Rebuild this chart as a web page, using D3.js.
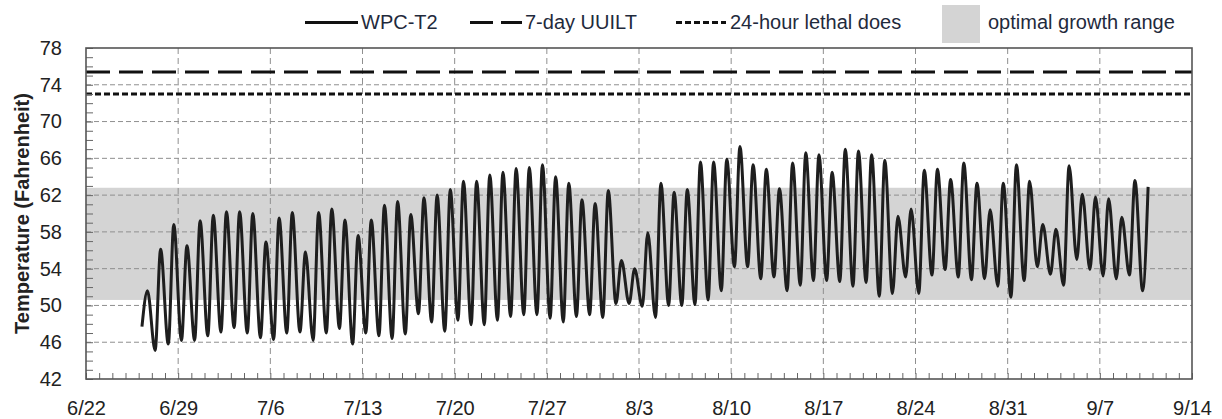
<!DOCTYPE html>
<html>
<head>
<meta charset="utf-8">
<script src="https://cdn.jsdelivr.net/npm/d3@7"></script>
<style>
  body { margin: 0; background: #fff; }
  text { font-family: "Liberation Sans", Arial, sans-serif; }
</style>
</head>
<body>
<div id="chart"></div>
<script>
// daily lows (early morning) and highs (afternoon)
// first value of each array is 6/26, the last one 9/10
const firstDay = new Date(2014, 5, 26);

const lowTemps = [
  47.7, 45.1, 45.8, 46.2, 46.2, 46.7, 47.1, 47.6, 47.0, 46.5,
  46.3, 47.0, 47.1, 46.2, 47.0, 47.5, 45.8, 47.0, 46.7, 46.4,
  46.9, 49.1, 48.2, 47.2, 48.4, 47.9, 47.9, 48.4, 48.8, 49.0,
  49.0, 48.6, 48.2, 48.8, 49.0, 48.7, 50.2, 50.2, 49.9, 48.7,
  50.0, 50.0, 50.1, 50.6, 51.6, 54.2, 54.2, 52.9, 53.1, 51.6,
  52.2, 52.7, 52.7, 52.6, 52.1, 52.5, 51.0, 51.3, 53.1, 51.3,
  53.3, 53.9, 53.1, 52.8, 52.9, 52.1, 50.9, 52.7, 54.2, 53.4,
  52.2, 55.0, 53.9, 53.2, 52.9, 53.3, 51.6
];

const highTemps = [
  51.6, 56.1, 58.8, 56.5, 59.2, 59.8, 60.2, 60.2, 60.0, 56.9,
  59.5, 60.1, 55.8, 60.1, 60.5, 59.3, 57.6, 59.3, 60.9, 61.3,
  59.9, 61.7, 62.0, 62.6, 63.5, 63.5, 64.2, 64.5, 64.9, 65.0,
  65.3, 64.0, 63.3, 61.5, 61.1, 62.5, 54.9, 54.0, 57.9, 63.3,
  62.3, 62.6, 65.6, 65.6, 65.9, 67.3, 65.3, 64.8, 62.7, 65.5,
  66.6, 66.4, 64.5, 67.0, 66.8, 66.4, 65.8, 59.7, 60.5, 64.7,
  64.8, 63.7, 65.5, 63.3, 60.4, 63.3, 65.3, 63.5, 58.8, 58.3,
  65.2, 62.1, 61.8, 61.6, 59.6, 63.6, 62.9
];

const uuilt = 75.4;          // 7-day UUILT
const lethal = 73;           // 24-hour lethal dose
const growthRange = [50.6, 62.8];

const xStart = new Date(2014, 5, 22);
const xEnd = new Date(2014, 8, 14);
const yTicks = [42, 46, 50, 54, 58, 62, 66, 70, 74, 78];

const legendItems = [
  { label: "WPC-T2", kind: "solid" },
  { label: "7-day UUILT", kind: "long" },
  { label: "24-hour lethal does", kind: "short" },
  { label: "optimal growth range", kind: "box" }
];

// build the series: low at 6:00, high at 16:00 every day
const series = [];
lowTemps.forEach((v, i) => {
  series.push({ t: d3.timeHour.offset(d3.timeDay.offset(firstDay, i), 6), v: v });
  series.push({ t: d3.timeHour.offset(d3.timeDay.offset(firstDay, i), 16), v: highTemps[i] });
});

const W = 1222, H = 419;
const margin = { top: 48, right: 30, bottom: 40, left: 86 };
const width = W - margin.left - margin.right,
      height = H - margin.top - margin.bottom;

const svg = d3.select("#chart").append("svg")
  .attr("width", W).attr("height", H);

const g = svg.append("g")
  .attr("transform", `translate(${margin.left},${margin.top})`);

const x = d3.scaleTime().domain([xStart, xEnd]).range([0, width]);
const y = d3.scaleLinear().domain([42, 78]).range([height, 0]);

const weeks = d3.timeDay.range(xStart, d3.timeDay.offset(xEnd, 1), 7);
const days = d3.timeDay.range(xStart, d3.timeDay.offset(xEnd, 1));

// optimal growth band
g.append("rect")
  .attr("x", 0).attr("width", width)
  .attr("y", y(growthRange[1]))
  .attr("height", y(growthRange[0]) - y(growthRange[1]))
  .attr("fill", "#d4d4d4");

// grid
g.append("g").selectAll("line")
  .data(yTicks.slice(1, -1))
  .join("line")
  .attr("x1", 0).attr("x2", width)
  .attr("y1", d => y(d)).attr("y2", d => y(d))
  .attr("stroke", "#8f8f8f").attr("stroke-width", 1)
  .attr("stroke-dasharray", "5,3");

g.append("g").selectAll("line")
  .data(weeks.slice(1, -1))
  .join("line")
  .attr("x1", d => x(d)).attr("x2", d => x(d))
  .attr("y1", 0).attr("y2", height)
  .attr("stroke", "#8f8f8f").attr("stroke-width", 1)
  .attr("stroke-dasharray", "6,4");

// threshold lines
g.append("line")
  .attr("x1", 0).attr("x2", width)
  .attr("y1", y(uuilt)).attr("y2", y(uuilt))
  .attr("stroke", "#111").attr("stroke-width", 3)
  .attr("stroke-dasharray", "24,9");

g.append("line")
  .attr("x1", 0).attr("x2", width)
  .attr("y1", y(lethal)).attr("y2", y(lethal))
  .attr("stroke", "#111").attr("stroke-width", 3)
  .attr("stroke-dasharray", "6,3");

// temperature line
const line = d3.line()
  .x(d => x(d.t))
  .y(d => y(d.v))
  .curve(d3.curveMonotoneX);

g.append("path")
  .datum(series)
  .attr("fill", "none")
  .attr("stroke", "#1e1e1e")
  .attr("stroke-width", 3)
  .attr("stroke-linejoin", "round")
  .attr("d", line);

// minor ticks
g.append("g")
  .call(d3.axisLeft(y).tickValues(d3.range(42, 79)).tickSize(-7).tickFormat(""))
  .call(a => a.select(".domain").remove())
  .selectAll("line").attr("stroke", "#666");

g.append("g")
  .attr("transform", `translate(0,${height})`)
  .call(d3.axisBottom(x).tickValues(days).tickSize(-6).tickFormat(""))
  .call(a => a.select(".domain").remove())
  .selectAll("line").attr("stroke", "#666");

// labelled axes
const yAxis = g.append("g")
  .call(d3.axisLeft(y).tickValues(yTicks).tickSize(0).tickPadding(24));
yAxis.select(".domain").remove();
yAxis.selectAll("text")
  .attr("font-size", 20).attr("fill", "#222")
  .style("font-family", "'Liberation Sans', Arial, sans-serif");

const xAxis = g.append("g")
  .attr("transform", `translate(0,${height})`)
  .call(d3.axisBottom(x).tickValues(weeks).tickSize(0).tickPadding(22)
    .tickFormat(d3.timeFormat("%-m/%-d")));
xAxis.select(".domain").remove();
xAxis.selectAll("text")
  .attr("font-size", 20).attr("fill", "#222")
  .style("font-family", "'Liberation Sans', Arial, sans-serif");

// frame
g.append("rect")
  .attr("width", width).attr("height", height)
  .attr("fill", "none").attr("stroke", "#555").attr("stroke-width", 1.6);

// y title
svg.append("text")
  .attr("transform", `translate(29,${margin.top + height / 2}) rotate(-90)`)
  .attr("text-anchor", "middle")
  .attr("font-size", 20).attr("font-weight", "bold")
  .attr("fill", "#222")
  .text("Temperature (Fahrenheit)");

// legend
const legendPos = [
  { x1: 305, x2: 358, tx: 361 },
  { x1: 470, x2: 522, tx: 525 },
  { x1: 676, x2: 726, tx: 730 },
  { x1: 942, x2: 980, tx: 988 }
];
const dashFor = { solid: null, long: "23,8", short: "6,3" };

const legend = svg.append("g");
legendItems.forEach((item, i) => {
  const p = legendPos[i];
  if (item.kind === "box") {
    legend.append("rect")
      .attr("x", p.x1).attr("y", 5)
      .attr("width", p.x2 - p.x1).attr("height", 38)
      .attr("fill", "#d4d4d4");
  } else {
    legend.append("line")
      .attr("x1", p.x1).attr("x2", p.x2)
      .attr("y1", 22.5).attr("y2", 22.5)
      .attr("stroke", "#111").attr("stroke-width", 3)
      .attr("stroke-dasharray", dashFor[item.kind]);
  }
  legend.append("text")
    .attr("x", p.tx).attr("y", 29)
    .attr("font-size", 20).attr("fill", "#1f2a3c")
    .text(item.label);
});
</script>
</body>
</html>
